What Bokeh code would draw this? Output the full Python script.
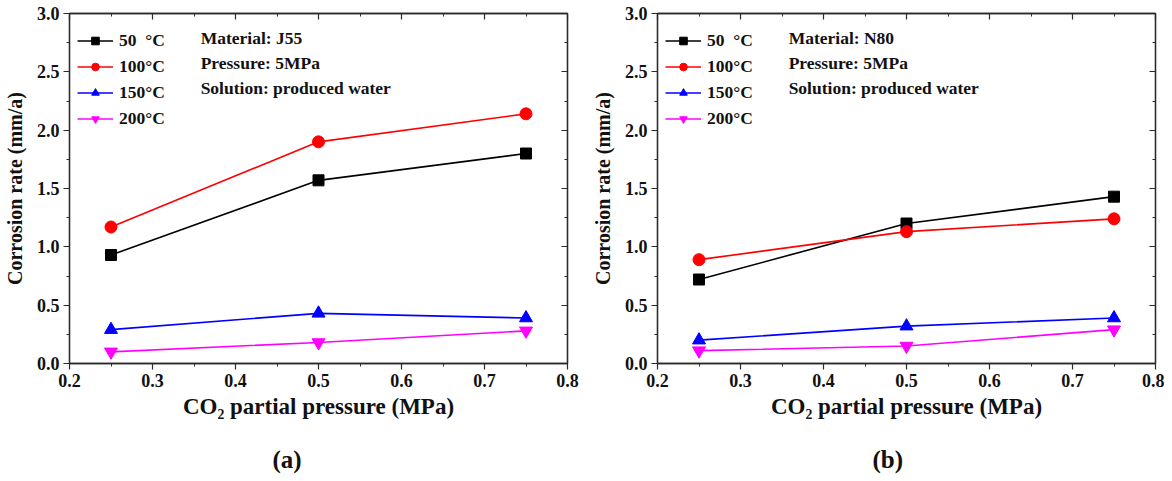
from bokeh.plotting import figure
from bokeh.models import (LinearAxis, SingleIntervalTicker, Range1d, Label, Title,
                          PrintfTickFormatter, CustomJSTickFormatter)
from bokeh.layouts import row
from bokeh.embed import file_html
from bokeh.resources import INLINE

pressure = [0.25, 0.5, 0.75]
temps = ["50  °C", "100°C", "150°C", "200°C"]
colors = ["#000000", "#FF0000", "#0000FF", "#FF00FF"]
markers = ["square", "circle", "triangle", "inverted_triangle"]
msizes = [11, 12, 13, 13]

j55_50 = [0.93, 1.57, 1.80]
j55_100 = [1.17, 1.90, 2.14]
j55_150 = [0.29, 0.43, 0.39]
j55_200 = [0.10, 0.18, 0.28]

n80_50 = [0.72, 1.20, 1.43]
n80_100 = [0.89, 1.13, 1.24]
n80_150 = [0.20, 0.32, 0.39]
n80_200 = [0.11, 0.15, 0.29]

notes_j55 = ["Material: J55", "Pressure: 5MPa", "Solution: produced water"]
notes_n80 = ["Material: N80", "Pressure: 5MPa", "Solution: produced water"]

FONT = "Liberation Serif"
AXC = "#2a2a2a"
TXT = "#111111"


def style_axis(ax, inward, labels=True):
    ax.axis_line_color = AXC
    ax.axis_line_width = 1.3
    ax.major_tick_line_color = AXC
    ax.minor_tick_line_color = AXC
    ax.major_tick_line_width = 1.2
    ax.minor_tick_line_width = 1.0
    if inward:
        ax.major_tick_in, ax.major_tick_out = 6, 0
        ax.minor_tick_in, ax.minor_tick_out = 3, 0
    else:
        ax.major_tick_in, ax.major_tick_out = 0, 6
        ax.minor_tick_in, ax.minor_tick_out = 0, 3
    ax.major_label_text_font = FONT
    ax.major_label_text_font_style = "bold"
    ax.major_label_text_font_size = "18px" if labels else "1px"
    ax.major_label_text_color = TXT
    if not labels:
        ax.major_label_standoff = 0
        ax.formatter = CustomJSTickFormatter(code="return '';")
    ax.axis_label_text_font = FONT
    ax.axis_label_text_font_style = "bold"
    ax.axis_label_text_font_size = "20px"
    ax.axis_label_text_color = TXT


def make_panel(series, notes, tag, bl, br, tag_offset):
    p = figure(frame_width=498, frame_height=350, min_border_left=bl, min_border_right=br,
               min_border_top=13, min_border_bottom=100, output_backend="svg",
               toolbar_location=None, x_range=Range1d(0.2, 0.8), y_range=Range1d(0.0, 3.0))
    p.grid.visible = False
    p.outline_line_color = AXC
    p.outline_line_width = 1.3
    p.background_fill_color = "white"
    p.border_fill_color = "white"

    p.xaxis.ticker = SingleIntervalTicker(interval=0.1, num_minor_ticks=2)
    p.yaxis.ticker = SingleIntervalTicker(interval=0.5, num_minor_ticks=2)
    p.xaxis.formatter = PrintfTickFormatter(format="%.1f")
    p.yaxis.formatter = PrintfTickFormatter(format="%.1f")
    style_axis(p.xaxis[0], False)
    style_axis(p.yaxis[0], False)
    p.xaxis.axis_label = "CO\u2082 partial pressure (MPa)"
    p.yaxis.axis_label = "Corrosion rate (mm/a)"
    p.xaxis.axis_label_text_font_size = "23px"
    p.xaxis.major_label_standoff = 4
    p.yaxis.major_label_standoff = 4
    p.xaxis.axis_label_standoff = 4
    p.yaxis.axis_label_standoff = 8

    top = LinearAxis(ticker=SingleIntervalTicker(interval=0.1, num_minor_ticks=2))
    right = LinearAxis(ticker=SingleIntervalTicker(interval=0.5, num_minor_ticks=2))
    style_axis(top, True, labels=False)
    style_axis(right, True, labels=False)
    p.add_layout(top, "above")
    p.add_layout(right, "right")

    for vals, lab, c, m, s in zip(series, temps, colors, markers, msizes):
        p.line(pressure, vals, line_color=c, line_width=1.6, legend_label=lab)
        p.scatter(pressure, vals, marker=m, size=s, fill_color=c, line_color=c,
                  legend_label=lab)

    lg = p.legend[0]
    lg.location = (8, 234)
    lg.border_line_color = None
    lg.background_fill_alpha = 0
    lg.label_text_font = FONT
    lg.label_text_font_style = "bold"
    lg.label_text_font_size = "17.5px"
    lg.label_text_color = TXT
    lg.glyph_width = 36
    lg.glyph_height = 19
    lg.label_height = 19
    lg.spacing = 5
    lg.padding = 3
    lg.margin = 0
    lg.label_standoff = 6

    ys = [2.79, 2.58, 2.36]
    for t, yv in zip(notes, ys):
        p.add_layout(Label(x=0.358, y=yv, text=t, text_font=FONT, text_font_style="bold",
                           text_font_size="17.5px", text_baseline="middle",
                           text_color=TXT))

    tt = Title(text=tag, align="left", offset=tag_offset, text_font=FONT,
               text_font_style="bold", text_font_size="25px", standoff=45,
               text_color=TXT)
    p.add_layout(tt, "below")
    return p


p1 = make_panel([j55_50, j55_100, j55_150, j55_200], notes_j55, "(a)", 61, 19, 203)
p2 = make_panel([n80_50, n80_100, n80_150, n80_200], notes_n80, "(b)", 71, 9, 215)

layout = row(p1, p2)
open("out.html", "w").write(file_html(layout, INLINE))
